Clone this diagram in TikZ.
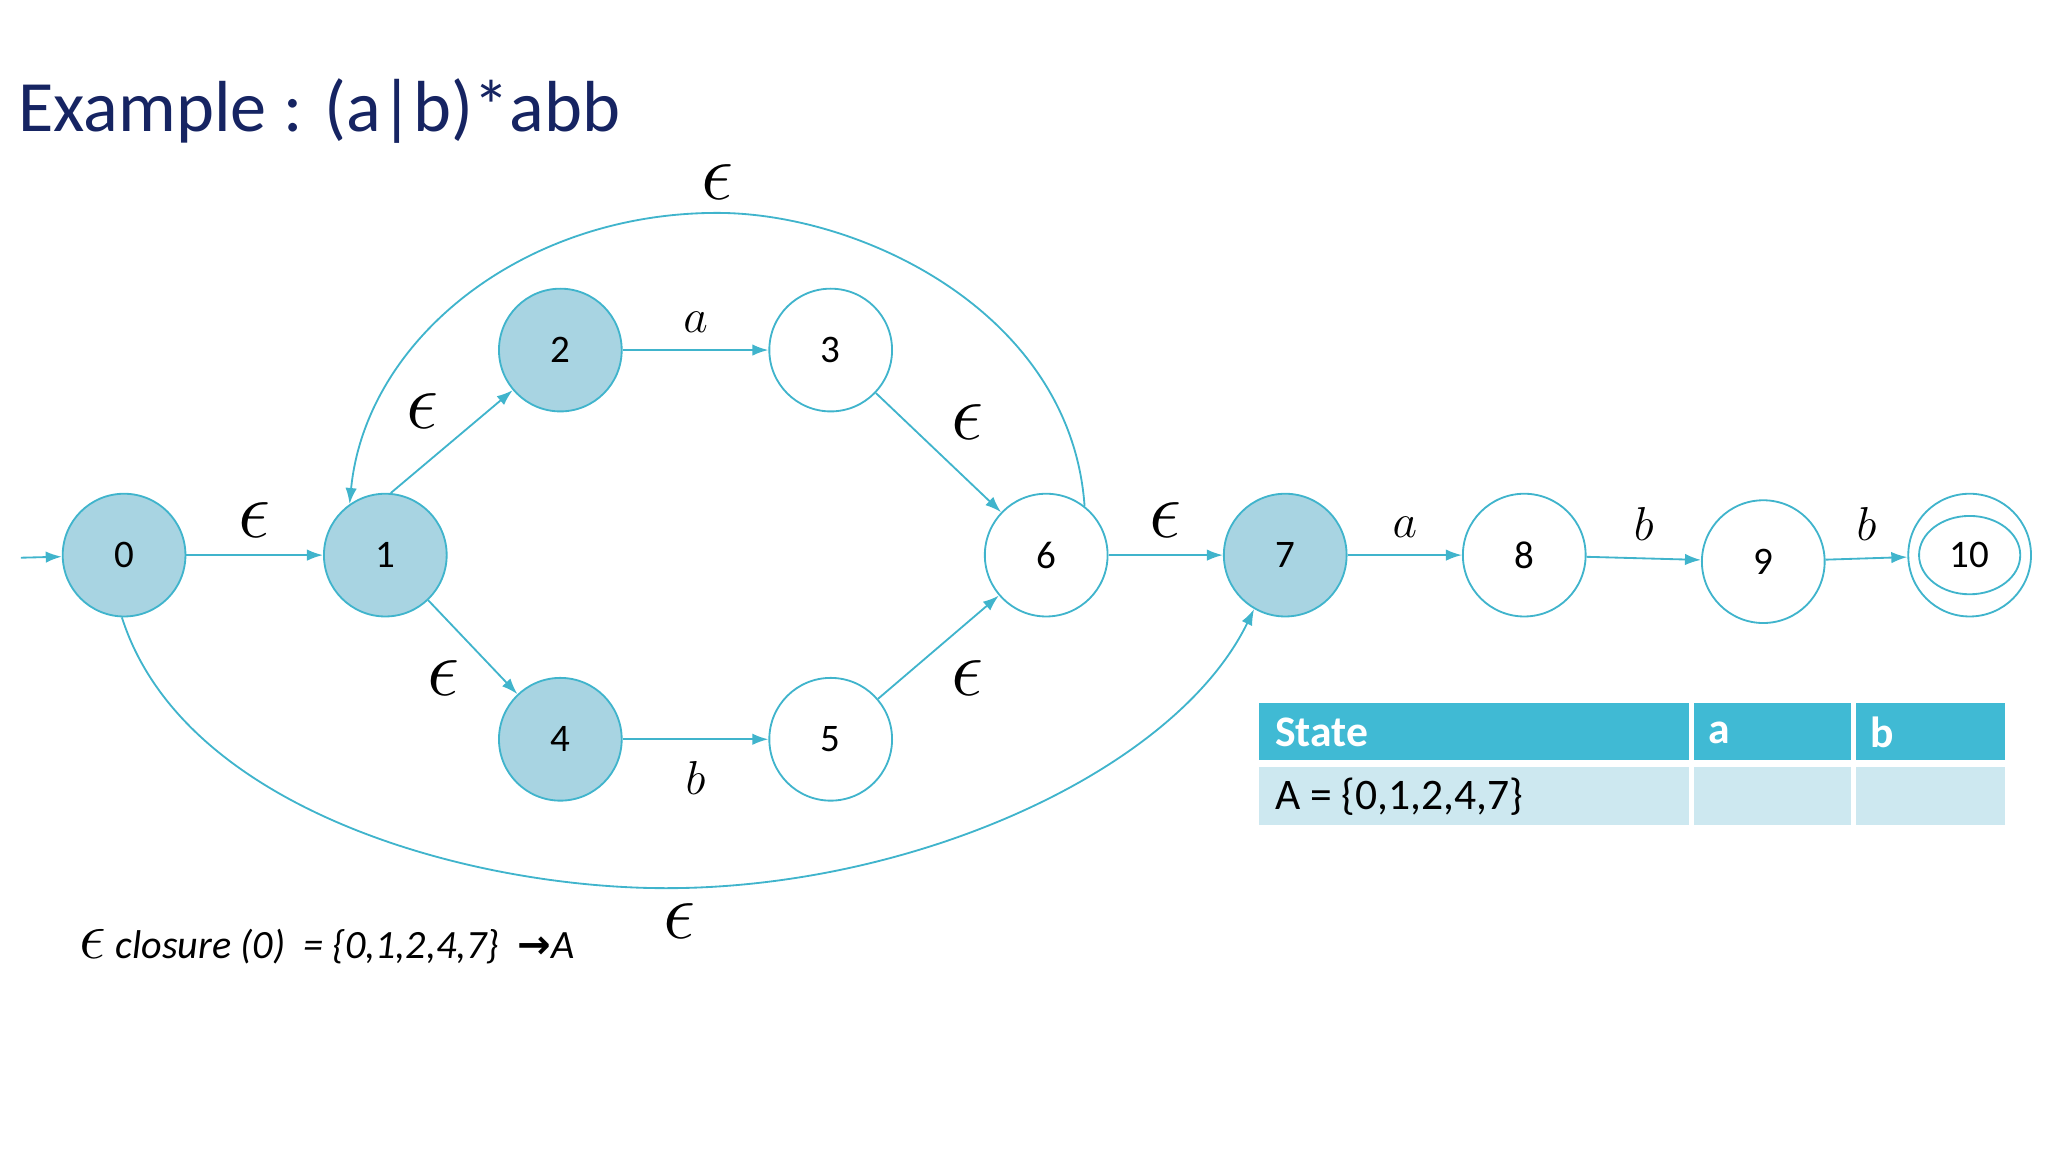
\documentclass[tikz,border=0pt]{standalone}
\usepackage{fontspec}
\setmainfont{Carlito}
\newfontfamily\djv{DejaVu Sans}
\usetikzlibrary{arrows.meta,shapes.geometric}
\definecolor{edgec}{RGB}{64,180,204}
\definecolor{fillc}{RGB}{168,212,226}
\definecolor{titlec}{RGB}{22,36,98}
\definecolor{headc}{RGB}{64,186,212}
\definecolor{rowc}{RGB}{205,232,240}
\newcommand{\eps}{\scalebox{1.7}{$\epsilon$}}
\tikzset{
 st/.style={circle,draw=edgec,line width=0.8pt,minimum size=1.88cm,inner sep=0pt,font=\fontsize{17}{17}\selectfont},
 fs/.style={st,fill=fillc},
 tr/.style={draw=edgec,line width=0.8pt,-{Latex[length=7pt,width=5pt]}},
 lb/.style={font=\fontsize{20}{20}\selectfont},
}
\begin{document}
\begin{tikzpicture}[x=0.02cm,y=-0.02cm]
\useasboundingbox (0,0) rectangle (1568,882);
\node[anchor=west,text=titlec,font=\fontsize{31.5}{32}\selectfont] (title) at (8,85) {Example : (a|b)*abb};
\node[fs] (n0) at (95,425) {0};
\node[fs] (n1) at (295,425) {1};
\node[fs] (n2) at (429,268) {2};
\node[st] (n3) at (636,268) {3};
\node[fs] (n4) at (429,566) {4};
\node[st] (n5) at (636,566) {5};
\node[st] (n6) at (801,425) {6};
\node[fs] (n7) at (984,425) {7};
\node[st] (n8) at (1167,425) {8};
\node[st] (n9) at (1350,430) {9};
\node[st] (n10) at (1508,425) {};
\node[ellipse,draw=edgec,line width=0.8pt,minimum width=1.55cm,minimum height=1.2cm,inner sep=0pt,font=\fontsize{17}{17}\selectfont] (n10i) at (1508,425) {10};
\coordinate (s) at (16,427);
\draw[tr] (s) -- (n0);
\draw[tr] (n0) -- node[lb,above=4pt]{\eps} (n1);
\draw[tr] (n1.85) -- node[lb,above left=2pt]{\eps} (n2);
\draw[tr] (n1) -- node[lb,below left=2pt]{\eps} (n4);
\draw[tr] (n2) -- node[lb,above=4pt]{$a$} (n3);
\draw[tr] (n4) -- node[lb,below=6pt]{$b$} (n5);
\draw[tr] (n3) -- node[lb,above right=2pt]{\eps} (n6);
\draw[tr] (n5) -- node[lb,below right=2pt]{\eps} (n6);
\draw[tr] (n6) -- node[lb,above=4pt]{\eps} (n7);
\draw[tr] (n7) -- node[lb,above=4pt]{$a$} (n8);
\draw[tr] (n8) -- node[lb,above=4pt]{$b$} (n9);
\draw[tr] (n9) -- node[lb,above=4pt]{$b$} (n10);
\draw[tr] (n6.52) .. controls (820,240) and (660,163) .. (549,163)
  node[lb,above=2pt]{\eps}
  .. controls (400,163) and (280,260) .. (n1.125);
\draw[tr] (n0.268) .. controls (140,620) and (360,680) .. (510,680)
  .. controls (700,680) and (900,590) .. (n7.240);
\node[lb] (e07) at (520,705) {\eps};
% table
\fill[headc] (964,538) rectangle (1535,582);
\fill[rowc] (964,587) rectangle (1535,632);
\draw[white,line width=2pt] (1295,538) -- (1295,632) (1419,538) -- (1419,632);
\node[anchor=west,text=white,font=\fontsize{19}{19}\selectfont\bfseries] (h1) at (970,561) {State};
\node[anchor=west,text=white,font=\fontsize{19}{19}\selectfont\bfseries] (h2) at (1302,561) {a};
\node[anchor=west,text=white,font=\fontsize{19}{19}\selectfont\bfseries] (h3) at (1426,561) {b};
\node[anchor=west,font=\fontsize{19}{19}\selectfont] (r1) at (970,610) {A = \{0,1,2,4,7\}};
\node[anchor=west,font=\fontsize{17.5}{18}\selectfont\itshape] (cl) at (55,725) {\eps\ closure (0)\ \ = \{0,1,2,4,7\}\ \ {\djv\bfseries →}A};
\end{tikzpicture}
\end{document}
